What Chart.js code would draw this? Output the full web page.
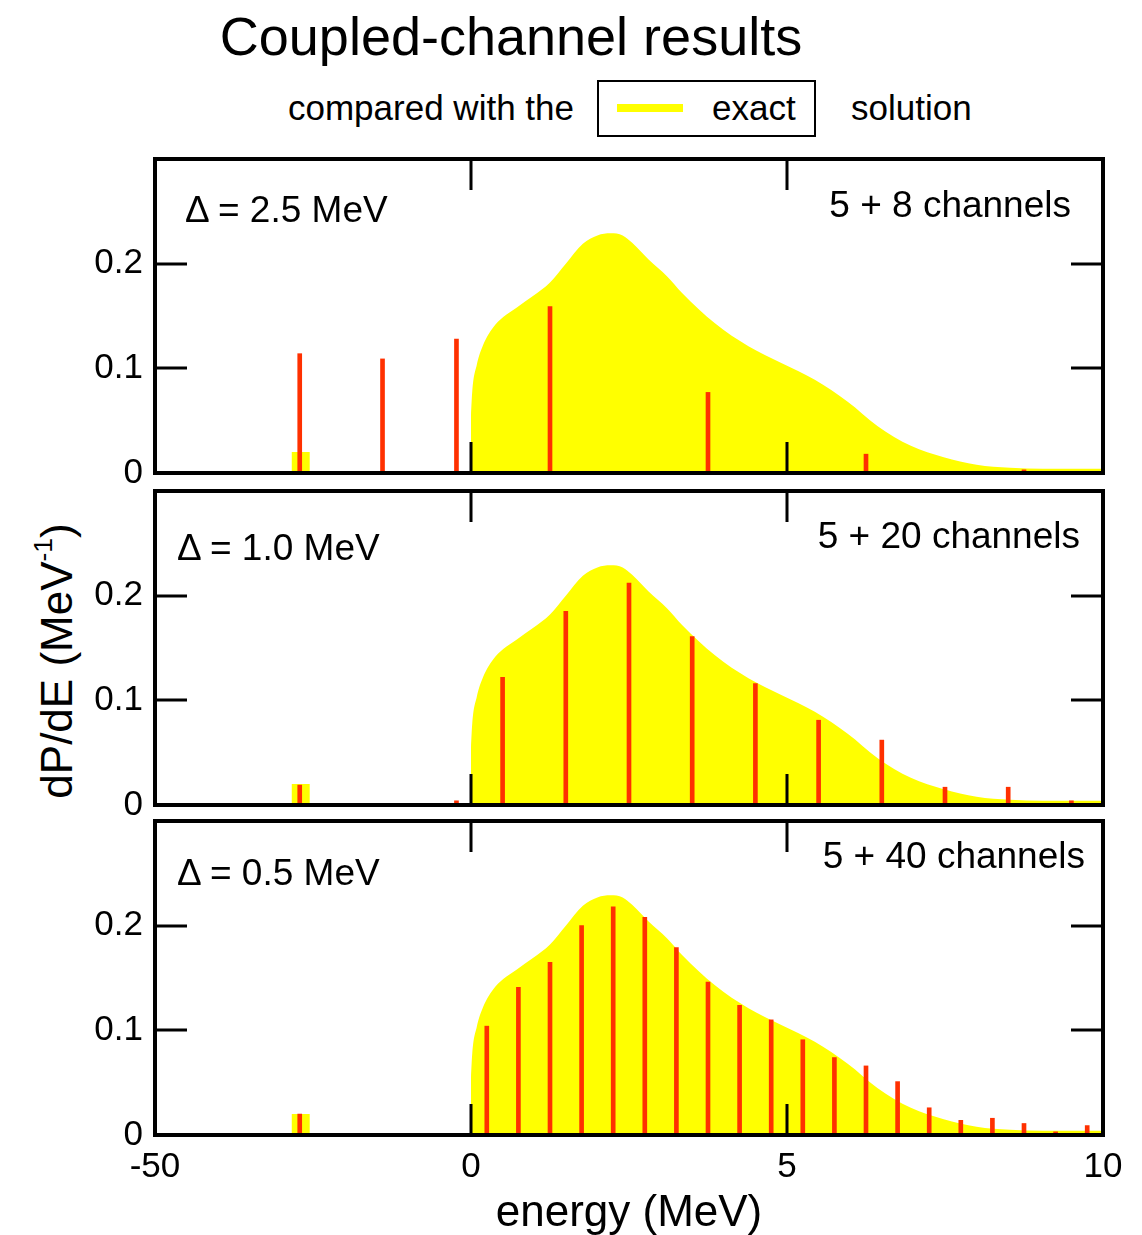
<!DOCTYPE html>
<html lang="en">
<head>
<meta charset="UTF-8" />
<title>Coupled-channel results</title>
<script src="https://cdn.jsdelivr.net/npm/chart.js"></script>
<style>
  body {
    margin: 0;
    width: 1142px;
    height: 1235px;
    position: relative;
    background: #fff;
    color: #000;
    font-family: "Liberation Sans", Arial, Helvetica, sans-serif;
    overflow: hidden;
  }
  .txt { position: absolute; white-space: nowrap; line-height: 1; }
  .panel { position: absolute; left: 0; width: 1142px; }
  .lbl { font-size: 37px; }
  #legendBox {
    position: absolute; left: 597px; top: 80px; width: 219px; height: 57px;
    border: 2px solid #000; box-sizing: border-box;
  }
  #legendLine { position: absolute; left: 617px; top: 104px; width: 66px; height: 8px; background: #ffff00; }
  #ylabel {
    position: absolute; left: -143px; top: 639px; width: 400px; height: 44px;
    font-size: 44px; line-height: 1; text-align: center; white-space: nowrap;
    transform: rotate(-90deg);
  }
  #ylabel span { font-size: 0.6em; position: relative; top: -0.75em; }
</style>
</head>
<body>

<div class="txt" style="left:211px; top:9px; width:600px; text-align:center; font-size:54px;">Coupled-channel results</div>

<div class="txt" style="left:288px; top:90px; font-size:35px;">compared with the</div>
<div id="legendBox"></div>
<div id="legendLine"></div>
<div class="txt" style="left:712px; top:90px; font-size:35px;">exact</div>
<div class="txt" style="left:851px; top:90px; font-size:35px;">solution</div>

<div id="ylabel">dP/dE (MeV<span>-1</span>)</div>

<div class="panel" style="top:140px; height:360px;"><canvas id="c1"></canvas></div>
<div class="panel" style="top:472px; height:360px;"><canvas id="c2"></canvas></div>
<div class="panel" style="top:802px; height:440px;"><canvas id="c3"></canvas></div>

<div class="txt lbl" style="left:185px; top:191px;">&Delta; = 2.5 MeV</div>
<div class="txt lbl" style="right:71px; top:186px;">5 + 8 channels</div>
<div class="txt lbl" style="left:177px; top:529px;">&Delta; = 1.0 MeV</div>
<div class="txt lbl" style="right:62px; top:517px;">5 + 20 channels</div>
<div class="txt lbl" style="left:177px; top:854px;">&Delta; = 0.5 MeV</div>
<div class="txt lbl" style="right:57px; top:837px;">5 + 40 channels</div>

<script>
// exact solution (same in all three panels)
const exactE = [0, 0.02, 0.09, 0.19, 0.35, 0.51, 0.72, 0.98, 1.25, 1.50,
                1.77, 2.0, 2.21, 2.4, 2.55, 2.81, 3.1, 3.34, 3.86, 4.39,
                4.91, 5.44, 5.96, 6.43, 6.96, 7.48, 8.0, 8.53, 9.05, 10];
const exactP = [0.055, 0.078, 0.103, 0.122, 0.139, 0.149, 0.158, 0.169, 0.182, 0.200,
                0.219, 0.227, 0.229, 0.227, 0.220, 0.204, 0.188, 0.172, 0.143, 0.121,
                0.105, 0.089, 0.068, 0.045, 0.026, 0.015, 0.008, 0.005, 0.004, 0.004];
// exact bound state (small block)
const boundE = [-28.4, -25.5];
const boundP = [0.020, 0.020];

// coupled-channel results
const e1 = [-27.1, -14.0, -2.3, 1.25, 3.75, 6.25, 8.75];
const p1 = [0.114, 0.109, 0.128, 0.159, 0.077, 0.018, 0.003];

const e2 = [-27.1, -2.3, 0.5, 1.5, 2.5, 3.5, 4.5, 5.5, 6.5, 7.5, 8.5, 9.5];
const p2 = [0.019, 0.004, 0.122, 0.185, 0.212, 0.161, 0.116, 0.081, 0.062, 0.017, 0.017, 0.004];

const e3 = [-27.1, 0.25, 0.75, 1.25, 1.75, 2.25, 2.75, 3.25, 3.75, 4.25, 4.75,
            5.25, 5.75, 6.25, 6.75, 7.25, 7.75, 8.25, 8.75, 9.25, 9.75];
const p3 = [0.020, 0.104, 0.141, 0.165, 0.200, 0.218, 0.208, 0.179, 0.146, 0.124, 0.110,
            0.091, 0.074, 0.066, 0.051, 0.026, 0.014, 0.016, 0.011, 0.003, 0.009];

const xTicks = [-50, 0, 5, 10];
const yTicks = [0, 0.1, 0.2];

// broken energy axis: below zero the scale is squeezed 10x
const toAxis = e => e < 0 ? e / 10 : e;
const fromAxis = v => v < 0 ? v * 10 : v;

const FONT = "'Liberation Sans', Arial, Helvetica, sans-serif";
const YELLOW = "#ffff00";
const RED = "#ff3000";

// box around the plot + inward ticks on all four sides
const framePlugin = {
  id: "frame",
  afterDatasetsDraw(chart) {
    const { ctx, chartArea: a, scales: { x, y } } = chart;
    ctx.save();
    ctx.strokeStyle = "#000";
    ctx.lineWidth = 3;
    ctx.beginPath();
    x.ticks.forEach(t => {
      const px = Math.round(x.getPixelForValue(t.value));
      if (px <= a.left + 2 || px >= a.right - 2) return;
      ctx.moveTo(px, a.top); ctx.lineTo(px, a.top + 31);
      ctx.moveTo(px, a.bottom); ctx.lineTo(px, a.bottom - 31);
    });
    y.ticks.forEach(t => {
      const py = Math.round(y.getPixelForValue(t.value));
      if (py >= a.bottom - 2 || py <= a.top + 2) return;
      ctx.moveTo(a.left, py); ctx.lineTo(a.left + 32, py);
      ctx.moveTo(a.right, py); ctx.lineTo(a.right - 32, py);
    });
    ctx.stroke();
    ctx.lineWidth = 4;
    ctx.strokeRect(a.left, a.top, a.right - a.left, a.bottom - a.top);
    ctx.restore();
  }
};

function makePanel(id, barE, barP, showX, padTop, padBottom) {
  const exactPts = exactE.map((e, i) => ({ x: toAxis(e), y: exactP[i] }));
  const boundPts = boundE.map((e, i) => ({ x: toAxis(e), y: boundP[i] }));
  const barPts = barE.map((e, i) => ({ x: toAxis(e), y: barP[i] }));

  return new Chart(document.getElementById(id), {
    type: "line",
    data: {
      datasets: [
        {
          type: "bar",
          label: "coupled channels",
          data: barPts,
          backgroundColor: RED,
          borderWidth: 0,
          barThickness: 4,
          order: 1
        },
        {
          label: "exact",
          data: exactPts,
          backgroundColor: YELLOW,
          borderColor: YELLOW,
          borderWidth: 0,
          pointRadius: 0,
          fill: "origin",
          cubicInterpolationMode: "monotone",
          order: 2
        },
        {
          label: "exact bound state",
          data: boundPts,
          backgroundColor: YELLOW,
          borderColor: YELLOW,
          borderWidth: 0,
          pointRadius: 0,
          fill: "origin",
          order: 2
        }
      ]
    },
    options: {
      responsive: true,
      maintainAspectRatio: false,
      animation: false,
      devicePixelRatio: 1,
      layout: { padding: { left: 0, right: 39, top: padTop, bottom: padBottom } },
      plugins: { legend: { display: false }, tooltip: { enabled: false } },
      scales: {
        x: {
          type: "linear",
          display: showX,
          min: toAxis(xTicks[0]),
          max: toAxis(xTicks[xTicks.length - 1]),
          offset: false,
          grid: { display: false, drawTicks: false, offset: false },
          border: { display: false },
          afterBuildTicks: s => { s.ticks = xTicks.map(v => ({ value: toAxis(v) })); },
          afterFit: s => { if (showX) s.height = 107; },
          ticks: {
            color: "#000",
            padding: 11,
            maxRotation: 0,
            font: { family: FONT, size: 35 },
            callback: v => String(fromAxis(v))
          },
          title: {
            display: showX,
            text: "energy (MeV)",
            color: "#000",
            font: { family: FONT, size: 44 },
            padding: { top: 0, bottom: 2 }
          }
        },
        y: {
          min: 0,
          max: 0.3,
          grid: { display: false, drawTicks: false },
          border: { display: false },
          afterBuildTicks: s => { s.ticks = yTicks.map(v => ({ value: v })); },
          afterFit: s => { s.width = 155; s.paddingTop = 0; s.paddingBottom = 0; },
          ticks: {
            color: "#000",
            padding: 12,
            font: { family: FONT, size: 35 },
            callback: v => v === 0 ? "0" : v.toFixed(1)
          }
        }
      }
    },
    plugins: [framePlugin]
  });
}

makePanel("c1", e1, p1, false, 19, 27);
makePanel("c2", e2, p2, false, 19, 27);
makePanel("c3", e3, p3, true, 19, 0);
</script>
</body>
</html>
